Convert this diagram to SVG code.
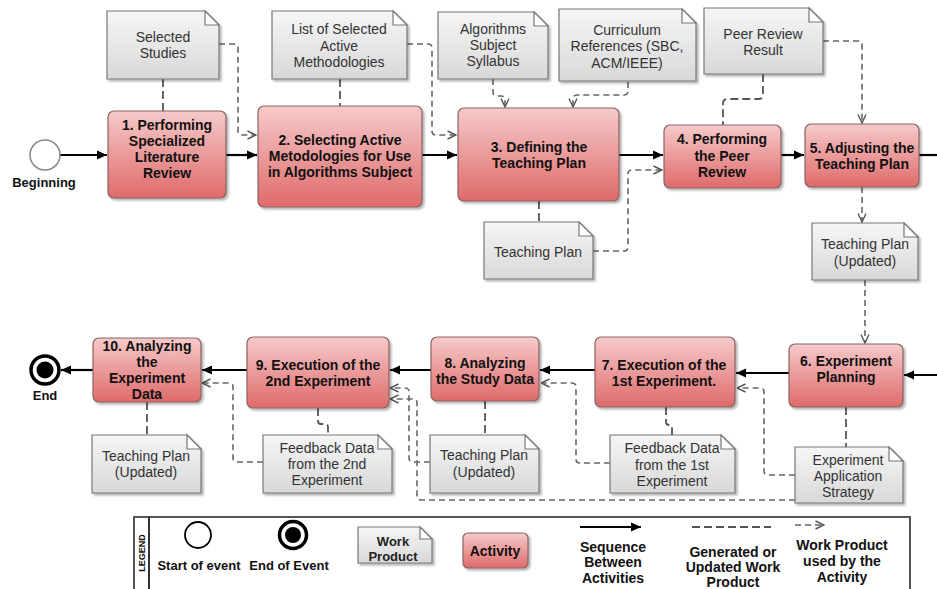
<svg xmlns="http://www.w3.org/2000/svg" width="937" height="589" viewBox="0 0 937 589">
<defs>
<linearGradient id="gAct" x1="0" y1="0" x2="0" y2="1">
<stop offset="0" stop-color="#f6caca"/><stop offset="1" stop-color="#df6a6a"/>
</linearGradient>
<linearGradient id="gDoc" x1="0" y1="0" x2="0" y2="1">
<stop offset="0" stop-color="#f6f6f6"/><stop offset="1" stop-color="#d8d8d8"/>
</linearGradient>
<filter id="sh" x="-10%" y="-10%" width="130%" height="130%">
<feDropShadow dx="2" dy="2" stdDeviation="1.2" flood-color="#000" flood-opacity="0.3"/>
</filter>
<marker id="mSeq" viewBox="0 0 10 10" refX="10" refY="5" markerWidth="10" markerHeight="10" markerUnits="userSpaceOnUse" orient="auto">
<path d="M0,0.5 L10,5 L0,9.5 Z" fill="#000"/>
</marker>
<marker id="mUse" viewBox="0 0 10 10" refX="9.5" refY="5" markerWidth="10" markerHeight="10" markerUnits="userSpaceOnUse" orient="auto">
<path d="M1,1 L9.5,5 L1,9" fill="none" stroke="#555" stroke-width="1.4"/>
</marker>
<style>
.act rect{fill:url(#gAct);stroke:#8a6262;stroke-width:1.2;filter:url(#sh)}
.act text{font-family:"Liberation Sans",Arial,sans-serif;font-weight:bold;font-size:14px;fill:#111;text-anchor:middle}
.doc path.b{fill:url(#gDoc);stroke:#777;stroke-width:1.2;filter:url(#sh)}
.doc path.f{fill:#fff;stroke:#777;stroke-width:1.2}
.doc text{font-family:"Liberation Sans",Arial,sans-serif;font-size:14px;fill:#333;text-anchor:middle}
.seq{stroke:#000;stroke-width:2.2;fill:none}
.gen{stroke:#555;stroke-width:1.8;fill:none;stroke-dasharray:8 4}
.use{stroke:#666;stroke-width:1.6;fill:none;stroke-dasharray:6 4}
.lbl{font-family:"Liberation Sans",Arial,sans-serif;font-weight:bold;font-size:13px;fill:#111;text-anchor:middle}
.leg{font-family:"Liberation Sans",Arial,sans-serif;font-weight:bold;font-size:14px;fill:#111;text-anchor:middle}
</style>
</defs>
<rect width="937" height="589" fill="#fff"/>

<g id="connectors">
<path class="seq" d="M60,155 H107" marker-end="url(#mSeq)"/>
<path class="seq" d="M226,155 H257" marker-end="url(#mSeq)"/>
<path class="seq" d="M422,155 H457" marker-end="url(#mSeq)"/>
<path class="seq" d="M619,155 H663" marker-end="url(#mSeq)"/>
<path class="seq" d="M781,155 H804" marker-end="url(#mSeq)"/>
<path class="seq" d="M919,155 H937"/>
<path class="seq" d="M937,375 H904" marker-end="url(#mSeq)"/>
<path class="seq" d="M789,373 H736" marker-end="url(#mSeq)"/>
<path class="seq" d="M595,370 H540" marker-end="url(#mSeq)"/>
<path class="seq" d="M431,370 H390" marker-end="url(#mSeq)"/>
<path class="seq" d="M247,370 H202" marker-end="url(#mSeq)"/>
<path class="seq" d="M93,370 H61" marker-end="url(#mSeq)"/>

<path class="gen" d="M163,79 V111"/>
<path class="gen" d="M340,79 V106"/>
<path class="gen" d="M539,201 V222"/>
<path class="gen" d="M763,74 V95 Q763,99 759,99 H727 Q723,99 723,103 V125"/>
<path class="gen" d="M846,407 V447"/>
<path class="gen" d="M666,407 V422 Q666,425 669,425 Q672,425 672,428 V435"/>
<path class="gen" d="M318,408 V421 Q318,424 321,424 H325 Q328,424 328,427 V435"/>
<path class="gen" d="M485,401 V435"/>
<path class="gen" d="M147,402 V435"/>

<path class="use" d="M219,44 H234 Q238,44 238,48 V131 Q238,135 242,135 H256" marker-end="url(#mUse)"/>
<path class="use" d="M407,44 H428 Q432,44 432,48 V131 Q432,135 436,135 H456" marker-end="url(#mUse)"/>
<path class="use" d="M493,79 V92 Q493,96 497,96 H501 Q505,96 505,100 V107" marker-end="url(#mUse)"/>
<path class="use" d="M628,82 V91 Q628,95 624,95 H577 Q573,95 573,99 V107" marker-end="url(#mUse)"/>
<path class="use" d="M593,251 H624 Q628,251 628,247 V174 Q628,170 632,170 H662" marker-end="url(#mUse)"/>
<path class="use" d="M823,41 H858 Q862,41 862,45 V123" marker-end="url(#mUse)"/>
<path class="use" d="M862,187 V222" marker-end="url(#mUse)"/>
<path class="use" d="M865,280 V343" marker-end="url(#mUse)"/>
<path class="use" d="M795,475 H768 Q764,475 764,471 V392 Q764,388 760,388 H737" marker-end="url(#mUse)"/>
<path class="use" d="M795,500 H421 Q417,500 417,496 V403 Q417,399 413,399 H390" marker-end="url(#mUse)"/>
<path class="use" d="M610,463 H580 Q576,463 576,459 V387 Q576,383 572,383 H541" marker-end="url(#mUse)"/>
<path class="use" d="M430,462 H413 Q409,462 409,458 V392 Q409,388 405,388 H390" marker-end="url(#mUse)"/>
<path class="use" d="M263,462 H237 Q233,462 233,458 V387 Q233,383 229,383 H202" marker-end="url(#mUse)"/>
</g>

<g id="beginning">
<circle cx="45" cy="155" r="15" fill="#fff" stroke="#888" stroke-width="1.5"/>
<text class="lbl" x="44" y="187">Beginning</text>
</g>
<g id="end">
<circle cx="45" cy="370" r="14" fill="#fff" stroke="#000" stroke-width="3.5"/>
<circle cx="45" cy="370" r="8.5" fill="#000"/>
<text class="lbl" x="45" y="400">End</text>
</g>

<g id="a1" class="act"><rect x="108" y="111" width="118" height="87" rx="6"/>
<text x="167" y="130">1. Performing</text><text x="167" y="146">Specialized</text><text x="167" y="162">Literature</text><text x="167" y="178">Review</text></g>
<g id="a2" class="act"><rect x="258" y="106" width="164" height="101" rx="6"/>
<text x="340" y="145">2. Selecting Active</text><text x="340" y="161">Metodologies for Use</text><text x="340" y="177">in Algorithms Subject</text></g>
<g id="a3" class="act"><rect x="458" y="108" width="161" height="93" rx="6"/>
<text x="539" y="152">3. Defining the</text><text x="539" y="168">Teaching Plan</text></g>
<g id="a4" class="act"><rect x="664" y="125" width="117" height="63" rx="6"/>
<text x="722" y="144">4. Performing</text><text x="722" y="161">the Peer</text><text x="722" y="177">Review</text></g>
<g id="a5" class="act"><rect x="805" y="124" width="114" height="63" rx="6"/>
<text x="862" y="153">5. Adjusting the</text><text x="862" y="169">Teaching Plan</text></g>
<g id="a6" class="act"><rect x="789" y="344" width="114" height="63" rx="6"/>
<text x="846" y="366">6. Experiment</text><text x="846" y="382">Planning</text></g>
<g id="a7" class="act"><rect x="595" y="337" width="140" height="70" rx="6"/>
<text x="664" y="370">7. Execution of the</text><text x="664" y="386">1st Experiment.</text></g>
<g id="a8" class="act"><rect x="431" y="337" width="108" height="64" rx="6"/>
<text x="485" y="368">8. Analyzing</text><text x="485" y="384">the Study Data</text></g>
<g id="a9" class="act"><rect x="247" y="337" width="142" height="71" rx="6"/>
<text x="318" y="370">9. Execution of the</text><text x="318" y="386">2nd Experiment</text></g>
<g id="a10" class="act"><rect x="93" y="338" width="108" height="64" rx="6"/>
<text x="147" y="351">10. Analyzing</text><text x="147" y="367">the</text><text x="147" y="383">Experiment</text><text x="147" y="399">Data</text></g>

<g id="d1" class="doc"><path class="b" d="M107,11 H205 L219,25 V79 H107 Z"/><path class="f" d="M205,11 V25 H219 Z"/>
<text x="163" y="42">Selected</text><text x="163" y="58">Studies</text></g>
<g id="d2" class="doc"><path class="b" d="M272,11 H393 L407,25 V79 H272 Z"/><path class="f" d="M393,11 V25 H407 Z"/>
<text x="339" y="34">List of Selected</text><text x="339" y="51">Active</text><text x="339" y="67">Methodologies</text></g>
<g id="d3" class="doc"><path class="b" d="M438,12 H534 L548,26 V79 H438 Z"/><path class="f" d="M534,12 V26 H548 Z"/>
<text x="493" y="34">Algorithms</text><text x="493" y="50">Subject</text><text x="493" y="66">Syllabus</text></g>
<g id="d4" class="doc"><path class="b" d="M559,9 H682 L696,23 V81 H559 Z"/><path class="f" d="M682,9 V23 H696 Z"/>
<text x="627" y="35">Curriculum</text><text x="627" y="51">References (SBC,</text><text x="627" y="68">ACM/IEEE)</text></g>
<g id="d5" class="doc"><path class="b" d="M704,8 H809 L823,22 V74 H704 Z"/><path class="f" d="M809,8 V22 H823 Z"/>
<text x="763" y="39">Peer Review</text><text x="763" y="55">Result</text></g>
<g id="d6" class="doc"><path class="b" d="M484,222 H579 L593,236 V279 H484 Z"/><path class="f" d="M579,222 V236 H593 Z"/>
<text x="538" y="257">Teaching Plan</text></g>
<g id="d7" class="doc"><path class="b" d="M812,223 H904 L918,237 V280 H812 Z"/><path class="f" d="M904,223 V237 H918 Z"/>
<text x="865" y="249">Teaching Plan</text><text x="865" y="266">(Updated)</text></g>
<g id="d8" class="doc"><path class="b" d="M795,447 H889 L903,461 V503 H795 Z"/><path class="f" d="M889,447 V461 H903 Z"/>
<text x="848" y="465">Experiment</text><text x="848" y="481">Application</text><text x="848" y="497">Strategy</text></g>
<g id="d9" class="doc"><path class="b" d="M610,435 H721 L735,449 V493 H610 Z"/><path class="f" d="M721,435 V449 H735 Z"/>
<text x="672" y="453">Feedback Data</text><text x="672" y="470">from the 1st</text><text x="672" y="486">Experiment</text></g>
<g id="d10" class="doc"><path class="b" d="M430,435 H525 L539,449 V493 H430 Z"/><path class="f" d="M525,435 V449 H539 Z"/>
<text x="484" y="460">Teaching Plan</text><text x="484" y="477">(Updated)</text></g>
<g id="d11" class="doc"><path class="b" d="M263,435 H378 L392,449 V493 H263 Z"/><path class="f" d="M378,435 V449 H392 Z"/>
<text x="327" y="453">Feedback Data</text><text x="327" y="469">from the 2nd</text><text x="327" y="485">Experiment</text></g>
<g id="d12" class="doc"><path class="b" d="M92,435 H187 L201,449 V493 H92 Z"/><path class="f" d="M187,435 V449 H201 Z"/>
<text x="146" y="461">Teaching Plan</text><text x="146" y="477">(Updated)</text></g>

<g id="legend">
<rect x="134" y="517" width="776" height="82" fill="#fff" stroke="#555" stroke-width="2"/>
<line x1="149" y1="517" x2="149" y2="589" stroke="#333" stroke-width="2"/>
<text x="145" y="553" transform="rotate(-90 145 553)" font-family="Liberation Sans, Arial, sans-serif" font-weight="bold" font-size="9" text-anchor="middle" fill="#111">LEGEND</text>
<circle cx="198" cy="535" r="13" fill="#fff" stroke="#000" stroke-width="1.8"/>
<text class="lbl" x="199" y="570">Start of event</text>
<circle cx="293" cy="535" r="13.5" fill="#fff" stroke="#000" stroke-width="3.5"/>
<circle cx="293" cy="535" r="8" fill="#000"/>
<text class="lbl" x="289" y="570">End of Event</text>
<g class="doc"><path class="b" d="M358,527 H420 L432,539 V563 H358 Z"/><path class="f" d="M420,527 V539 H432 Z"/>
<text x="393" y="546" font-weight="bold" style="font-size:13px;font-weight:bold;fill:#222">Work</text><text x="393" y="561" style="font-size:13px;font-weight:bold;fill:#222">Product</text></g>
<g class="act"><rect x="463" y="533" width="65" height="35" rx="5"/><text x="495" y="556">Activity</text></g>
<path class="seq" d="M580,527 H641" marker-end="url(#mSeq)"/>
<text class="leg" x="613" y="552">Sequence</text><text class="leg" x="613" y="567">Between</text><text class="leg" x="613" y="583">Activities</text>
<path class="gen" d="M692,527 H771"/>
<text class="leg" x="733" y="557">Generated or</text><text class="leg" x="733" y="572">Updated Work</text><text class="leg" x="733" y="587">Product</text>
<path class="use" d="M795,525 H824" marker-end="url(#mUse)"/>
<text class="leg" x="842" y="550">Work Product</text><text class="leg" x="842" y="566">used by the</text><text class="leg" x="842" y="582">Activity</text>
</g>
</svg>
